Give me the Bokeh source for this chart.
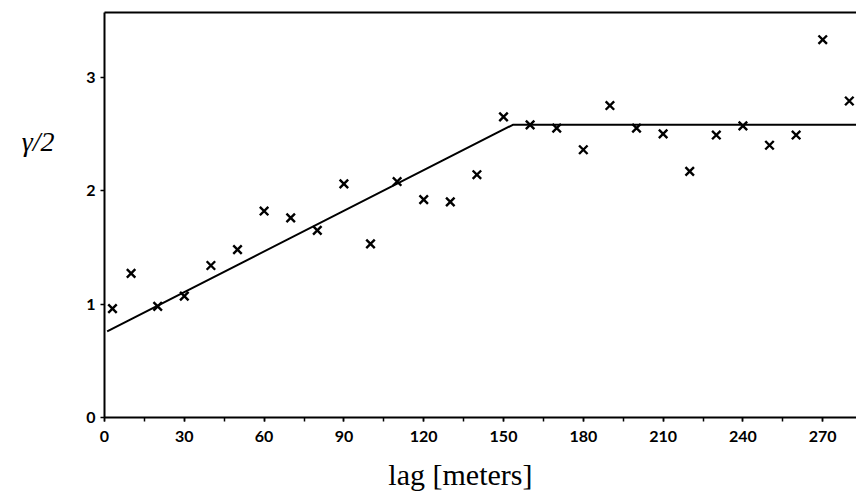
from bokeh.plotting import figure
from bokeh.models import (SingleIntervalTicker, FixedTicker, LinearAxis,
                          Range1d)
from bokeh.embed import file_html
from bokeh.resources import INLINE

# data
lag = [3, 10, 20, 30, 40, 50, 60, 70, 80, 90, 100, 110, 120, 130, 140,
       150, 160, 170, 180, 190, 200, 210, 220, 230, 240, 250, 260, 270, 280]
gamma_half = [0.96, 1.27, 0.98, 1.07, 1.34, 1.48, 1.82, 1.76, 1.65, 2.06,
              1.53, 2.08, 1.92, 1.90, 2.14, 2.65, 2.58, 2.55, 2.36, 2.75,
              2.55, 2.50, 2.17, 2.49, 2.57, 2.40, 2.49, 3.33, 2.79]
model_lag = [1, 153.5, 290]
model_gamma = [0.76, 2.58, 2.58]
x_label = "lag [meters]"
x_label_at = 133.8
y_label = "γ/2"
y_label_at = 2.435

p = figure(width=856, height=495, output_backend="svg", toolbar_location=None,
           x_range=Range1d(0, 282.7), y_range=Range1d(0, 3.57),
           min_border_left=104, min_border_right=0, min_border_top=12,
           min_border_bottom=78)
p.outline_line_color = None
p.grid.visible = False
p.background_fill_color = "white"
p.border_fill_color = "white"

tick_font = "Lato"
xa = p.xaxis[0]
xa.ticker = SingleIntervalTicker(interval=30, num_minor_ticks=2)
xa.axis_line_width = 2
xa.axis_line_color = "black"
xa.major_tick_in = 0
xa.major_tick_out = 4
xa.minor_tick_in = 0
xa.minor_tick_out = 4
xa.major_tick_line_width = 1.5
xa.minor_tick_line_width = 1.5
xa.major_label_standoff = 9
xa.major_label_text_font = tick_font
xa.major_label_text_font_style = "bold"
xa.major_label_text_font_size = "16px"
xa.major_label_text_color = "black"

ya = p.yaxis[0]
ya.ticker = SingleIntervalTicker(interval=1, num_minor_ticks=0)
ya.axis_line_width = 2
ya.axis_line_color = "black"
ya.major_tick_in = 0
ya.major_tick_out = 4
ya.major_tick_line_width = 1.5
ya.minor_tick_line_color = None
ya.major_label_standoff = 5
ya.major_label_text_font = tick_font
ya.major_label_text_font_style = "bold"
ya.major_label_text_font_size = "16px"
ya.major_label_text_color = "black"

# horizontal y label, drawn as the single label of an extra, line-less axis
ylab_axis = LinearAxis(ticker=FixedTicker(ticks=[y_label_at]),
                       major_label_overrides={y_label_at: y_label},
                       axis_line_color=None, major_tick_line_color=None,
                       minor_tick_line_color=None, major_tick_out=0,
                       major_tick_in=0, major_label_standoff=29,
                       major_label_text_font="Liberation Serif",
                       major_label_text_font_style="italic",
                       major_label_text_font_size="28px",
                       major_label_text_color="black")
p.add_layout(ylab_axis, "left")

# x label, placed off-centre like the reference, via an extra line-less axis
xlab_axis = LinearAxis(ticker=FixedTicker(ticks=[x_label_at]),
                       major_label_overrides={x_label_at: x_label},
                       axis_line_color=None, major_tick_line_color=None,
                       minor_tick_line_color=None, major_tick_out=0,
                       major_tick_in=0, major_label_standoff=13,
                       major_label_text_font="Liberation Serif",
                       major_label_text_font_size="30px",
                       major_label_text_color="black")
p.add_layout(xlab_axis, "below")

top = LinearAxis(ticker=FixedTicker(ticks=[]), axis_line_width=2,
                 axis_line_color="black", major_tick_line_color=None,
                 minor_tick_line_color=None, major_label_text_font_size="0px")
p.add_layout(top, "above")

p.line(model_lag, model_gamma, line_color="black", line_width=2)
p.scatter(lag, gamma_half, marker="x", size=12, line_color="black",
          line_width=2.4)

open("out.html", "w").write(file_html(p, INLINE))
